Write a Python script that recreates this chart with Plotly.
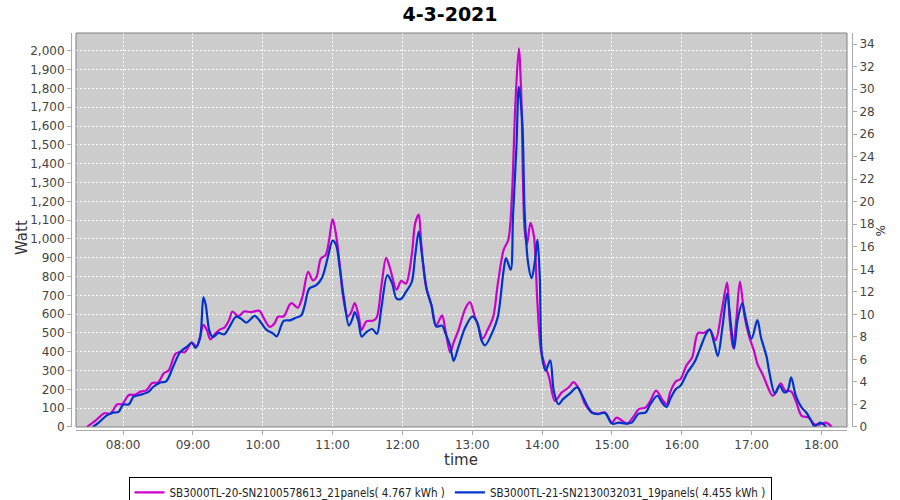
import plotly.graph_objects as go

DAY = "2021-03-04 "

m_times = ["07:29","07:36","07:44","07:49","07:55","07:59","08:05","08:10","08:15","08:20","08:25","08:30",
           "08:35","08:39","08:45","08:49","08:53","08:59","09:03","09:06","09:09","09:12","09:15","09:19",
           "09:23","09:27","09:31","09:34","09:39","09:44","09:50","09:57","10:01","10:06","10:10","10:13",
           "10:18","10:23","10:25","10:30","10:34","10:39","10:43","10:46","10:50","10:54","10:57","11:00",
           "11:03","11:06","11:09","11:13","11:16","11:19","11:22","11:25","11:29","11:35","11:38","11:42",
           "11:46","11:49","11:55","11:59","12:03","12:08","12:11","12:14","12:16","12:20","12:25","12:29",
           "12:34","12:37","12:41","12:44","12:48","12:54","12:58","13:02","13:05","13:09","13:13","13:18",
           "13:22","13:27","13:31","13:34","13:37","13:40","13:42","13:45","13:47","13:50","13:53","13:56",
           "13:59","14:02","14:06","14:11","14:17","14:23","14:27","14:32","14:37","14:43","14:48","14:54",
           "15:00","15:04","15:09","15:13","15:19","15:23","15:29","15:33","15:38","15:43","15:47","15:50",
           "15:55","15:59","16:04","16:09","16:14","16:19","16:24","16:29","16:34","16:39","16:41","16:44",
           "16:47","16:50","16:54","16:58","17:02","17:05","17:10","17:14","17:18","17:21","17:25","17:29",
           "17:34","17:38","17:43","17:49","17:54","17:59","18:04","18:09"]
m_watts = [0,32,73,71,121,121,170,171,188,196,234,237,
           286,300,389,400,398,450,428,478,543,514,466,496,
           518,528,568,614,589,614,611,618,577,532,550,586,
           589,650,659,634,691,825,780,795,896,914,995,1105,
           1021,870,691,587,611,659,602,516,562,566,584,754,
           900,852,730,777,762,914,1084,1129,986,754,646,539,
           593,512,396,450,512,629,664,590,540,470,514,586,
           764,943,996,1220,1711,2014,1782,1050,970,1086,1014,657,
           407,336,264,139,184,211,238,200,121,77,71,77,
           23,50,32,18,59,95,104,139,193,148,121,184,
           243,255,327,371,500,500,518,461,604,768,586,421,
           577,773,586,479,407,336,273,211,166,184,232,193,
           189,139,59,50,14,14,23,0]

b_times = ["07:34","07:39","07:46","07:52","07:56","08:00","08:05","08:09","08:15","08:22","08:26","08:32",
           "08:37","08:43","08:49","08:55","08:59","09:02","09:06","09:09","09:11","09:14","09:17","09:22",
           "09:27","09:31","09:37","09:41","09:46","09:53","09:57","10:03","10:09","10:12","10:18","10:24",
           "10:28","10:33","10:36","10:40","10:46","10:51","10:56","11:00","11:03","11:06","11:10","11:14",
           "11:17","11:19","11:22","11:25","11:29","11:34","11:38","11:42","11:47","11:51","11:55","11:59",
           "12:03","12:08","12:11","12:14","12:17","12:21","12:25","12:29","12:34","12:37","12:41","12:44",
           "12:48","12:54","13:00","13:04","13:08","13:11","13:18","13:22","13:27","13:29","13:33","13:35",
           "13:38","13:40","13:43","13:45","13:48","13:51","13:54","13:56","13:58","14:00","14:03","14:07",
           "14:10","14:14","14:18","14:24","14:30","14:35","14:39","14:43","14:48","14:54","15:00","15:06",
           "15:12","15:17","15:23","15:29","15:33","15:39","15:43","15:47","15:50","15:55","15:59","16:05",
           "16:11","16:16","16:21","16:24","16:28","16:31","16:35","16:39","16:42","16:45","16:48","16:52",
           "16:55","17:00","17:05","17:08","17:13","17:15","17:20","17:24","17:28","17:31","17:34","17:38",
           "17:43","17:47","17:51","17:54","17:59","18:02","18:04"]
b_watts = [0,23,62,77,80,118,121,161,171,188,214,237,
           243,321,398,428,448,421,470,689,648,514,478,500,
           493,528,586,577,555,591,568,518,496,482,564,568,
           580,593,646,736,754,795,905,991,968,852,673,539,
           575,611,566,480,504,521,495,637,807,766,682,682,
           718,771,914,1039,905,727,646,534,539,498,432,352,
           423,530,587,560,460,434,514,586,836,898,836,1121,
           1496,1809,1621,1139,871,791,889,996,800,371,300,354,
           193,121,148,179,211,160,110,75,68,75,18,23,
           18,23,71,77,121,166,130,107,148,202,220,291,
           345,421,496,518,443,377,532,711,559,416,568,657,
           577,470,568,479,371,300,179,220,184,193,264,166,
           104,77,36,5,23,14,0]

series_names = ["SB3000TL-20-SN2100578613_21panels( 4.767 kWh )",
                "SB3000TL-21-SN2130032031_19panels( 4.455 kWh )"]
series_colors = ["#CC00CC", "#0033CC"]

title_text = "4-3-2021"
x_title = "time"
y_title = "Watt"
y2_title = "%"

fig = go.Figure()
fig.add_trace(go.Scatter(x=[DAY + t for t in m_times], y=m_watts, mode="lines",
                         name=series_names[0],
                         line=dict(color=series_colors[0], width=2.2, shape="spline", smoothing=0.9)))
fig.add_trace(go.Scatter(x=[DAY + t for t in b_times], y=b_watts, mode="lines",
                         name=series_names[1],
                         line=dict(color=series_colors[1], width=2.2, shape="spline", smoothing=0.9)))
# empty trace to carry the right-hand % axis
fig.add_trace(go.Scatter(x=[DAY + "12:00"], y=[None], yaxis="y2", showlegend=False,
                         mode="lines", hoverinfo="skip"))

tickfont = dict(family="DejaVu Sans", size=12, color="#444444")
axis_title_font = dict(family="DejaVu Sans", size=15, color="#333333")

fig.update_layout(
    width=900, height=500,
    paper_bgcolor="white",
    plot_bgcolor="#CCCCCC",
    margin=dict(l=71, r=48, t=33, b=70, autoexpand=False),
    title=dict(text=title_text, x=0.5, xref="container", xanchor="center",
               y=0.972, yanchor="middle", automargin=False,
               font=dict(family="DejaVu Sans", size=19, color="black", weight="bold")),
    xaxis=dict(
        domain=[0.0064, 0.9936],
        anchor="free", position=0,
        type="date", automargin=False,
        range=[DAY + "07:19:30", DAY + "18:22:00"],
        tickformat="%H:%M", dtick=3600000, tick0=DAY + "08:00",
        showgrid=True, gridcolor="white", griddash="2px,2px", gridwidth=1,
        showline=True, linecolor="#AAAAAA", linewidth=1,
        ticks="outside", ticklen=4, tickcolor="#AAAAAA",
        tickfont=tickfont,
        zeroline=False,
    ),
    yaxis=dict(
        domain=[0.0076, 1],
        anchor="free", position=0, automargin=False,
        range=[0, 2095],
        dtick=100, tick0=0, tickformat=",d",
        showgrid=True, gridcolor="white", griddash="2px,2px", gridwidth=1,
        showline=True, linecolor="#AAAAAA", linewidth=1,
        ticks="outside", ticklen=4, tickcolor="#AAAAAA",
        tickfont=tickfont,
        zeroline=False,
    ),
    yaxis2=dict(
        domain=[0.0076, 1],
        overlaying="y", side="right",
        anchor="free", position=1, automargin=False,
        range=[0, 34.98], dtick=2, tick0=0,
        showgrid=False,
        showline=True, linecolor="#AAAAAA", linewidth=1,
        ticks="outside", ticklen=4, tickcolor="#AAAAAA",
        tickfont=tickfont,
        zeroline=False,
    ),
    legend=dict(
        orientation="h",
        x=0.5, xanchor="center", xref="container",
        y=-0.118, yanchor="top", yref="paper",
        bordercolor="black", borderwidth=1, bgcolor="white",
        font=dict(family="DejaVu Sans Condensed, Liberation Sans Narrow, sans-serif", size=11.5, color="#222222"),
        itemwidth=30, tracegroupgap=0,
    ),
    showlegend=True,
)

# axis titles as annotations (paper coords: x 71..852 px, y 430..33 px)
fig.add_annotation(text=x_title, xref="paper", yref="paper", x=0.4994, y=-0.0755,
                   xanchor="center", yanchor="middle", showarrow=False, font=axis_title_font)
fig.add_annotation(text=y_title, xref="paper", yref="paper", x=-0.0627, y=0.4836,
                   xanchor="center", yanchor="middle", showarrow=False, textangle=-90, font=axis_title_font)
fig.add_annotation(text=y2_title, xref="paper", yref="paper", x=1.0359, y=0.5038,
                   xanchor="center", yanchor="middle", showarrow=False, textangle=90,
                   font=dict(family="DejaVu Sans", size=12, color="#333333"))

# plot-area border
fig.add_shape(type="rect", xref="x domain", yref="y domain", x0=0, x1=1, y0=0, y1=1,
              line=dict(color="#808080", width=1), fillcolor="rgba(0,0,0,0)", layer="above")

fig.write_html("out.html", config={"displayModeBar": False},
               post_script="document.body.style.margin='0px';")
